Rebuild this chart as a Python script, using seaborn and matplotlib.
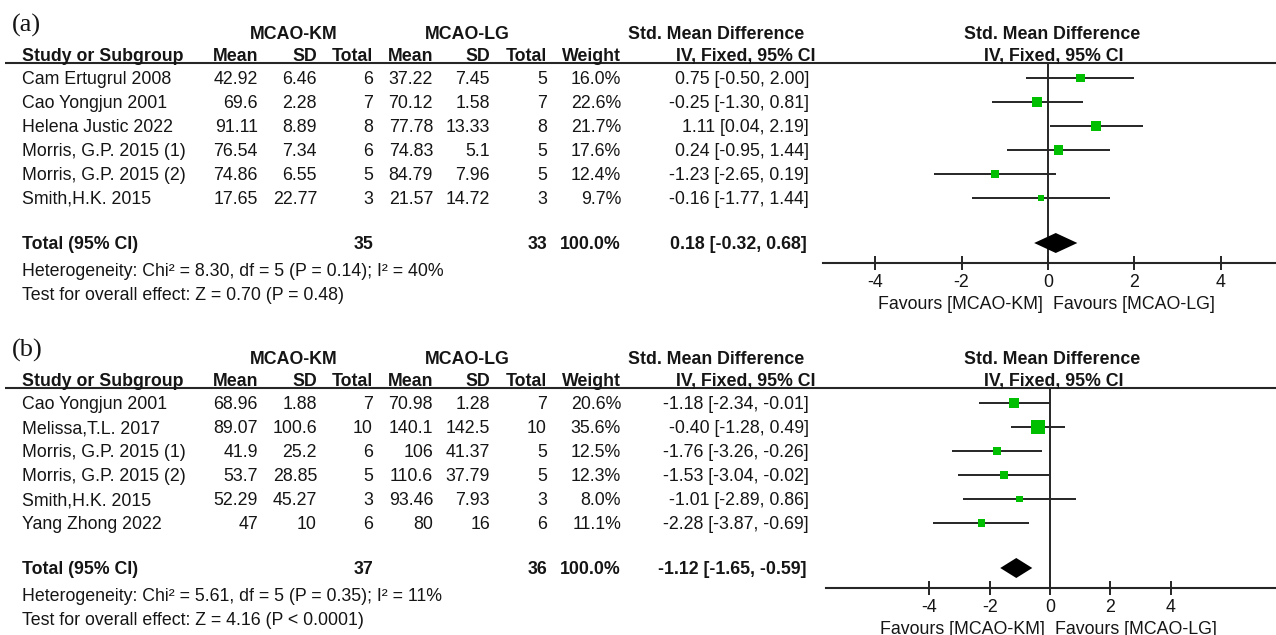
import matplotlib
matplotlib.use("Agg")
import numpy as np
import pandas as pd
import matplotlib.pyplot as plt
import seaborn as sns

# ---------------- (a) ----------------
a_study = ["Cam Ertugrul 2008", "Cao Yongjun 2001", "Helena Justic 2022",
           "Morris, G.P. 2015 (1)", "Morris, G.P. 2015 (2)", "Smith,H.K. 2015"]
a_km_mean = [42.92, 69.6, 91.11, 76.54, 74.86, 17.65]
a_km_sd = [6.46, 2.28, 8.89, 7.34, 6.55, 22.77]
a_km_n = [6, 7, 8, 6, 5, 3]
a_lg_mean = [37.22, 70.12, 77.78, 74.83, 84.79, 21.57]
a_lg_sd = [7.45, 1.58, 13.33, 5.1, 7.96, 14.72]
a_lg_n = [5, 7, 8, 5, 5, 3]
a_weight = [16.0, 22.6, 21.7, 17.6, 12.4, 9.7]
a_smd = [0.75, -0.25, 1.11, 0.24, -1.23, -0.16]
a_lo = [-0.50, -1.30, 0.04, -0.95, -2.65, -1.77]
a_hi = [2.00, 0.81, 2.19, 1.44, 0.19, 1.44]
a_pooled = [0.18, -0.32, 0.68]
a_total_weight = 100.0
a_het = "Heterogeneity: Chi² = 8.30, df = 5 (P = 0.14); I² = 40%"
a_test = "Test for overall effect: Z = 0.70 (P = 0.48)"

# ---------------- (b) ----------------
b_study = ["Cao Yongjun 2001", "Melissa,T.L. 2017", "Morris, G.P. 2015 (1)",
           "Morris, G.P. 2015 (2)", "Smith,H.K. 2015", "Yang Zhong 2022"]
b_km_mean = [68.96, 89.07, 41.9, 53.7, 52.29, 47]
b_km_sd = [1.88, 100.6, 25.2, 28.85, 45.27, 10]
b_km_n = [7, 10, 6, 5, 3, 6]
b_lg_mean = [70.98, 140.1, 106, 110.6, 93.46, 80]
b_lg_sd = [1.28, 142.5, 41.37, 37.79, 7.93, 16]
b_lg_n = [7, 10, 5, 5, 3, 6]
b_weight = [20.6, 35.6, 12.5, 12.3, 8.0, 11.1]
b_smd = [-1.18, -0.40, -1.76, -1.53, -1.01, -2.28]
b_lo = [-2.34, -1.28, -3.26, -3.04, -2.89, -3.87]
b_hi = [-0.01, 0.49, -0.26, -0.02, 0.86, -0.69]
b_pooled = [-1.12, -1.65, -0.59]
b_total_weight = 100.0
b_het = "Heterogeneity: Chi² = 5.61, df = 5 (P = 0.35); I² = 11%"
b_test = "Test for overall effect: Z = 4.16 (P < 0.0001)"

group_names = ["MCAO-KM", "MCAO-LG"]
col_headers = ["Mean", "SD", "Total", "Mean", "SD", "Total", "Weight"]
tick_values = [-4, -2, 0, 2, 4]

sns.set_theme(style="white")
plt.rcParams["font.family"] = ["Liberation Sans", "DejaVu Sans"]

W, H = 1276, 635
FS = 12.8
TXT = "#151515"
LINE = "#262626"
GREEN = "#00BE00"

fig = plt.figure(figsize=(W / 100, H / 100), dpi=100)
bg = fig.add_axes([0, 0, 1, 1])
bg.set_xlim(0, W)
bg.set_ylim(H, 0)
bg.axis("off")

# right edges of numeric columns
COL_X = [258, 317, 373, 433, 490, 547, 621]
CI_X = 809


def fmt(v):
    return f"{v:g}"


def draw_panel(label, off, study, km_mean, km_sd, km_n, lg_mean, lg_sd, lg_n,
               weight, total_weight, smd, lo, hi, pooled, het, test,
               axis_left, xlim):
    line_y = 63 + off
    row0 = 78 + off
    step = 24.0
    total_y = 243 + off
    axis_y = 263 + off

    def base(y):
        return y + 6

    bg.text(12, 25 + off, label, family="Liberation Serif", fontsize=19,
            ha="left", va="center", color=TXT)
    # group headers
    bg.text((214 + 373) / 2, base(33 + off), group_names[0], fontsize=FS,
            weight="bold", ha="center", va="baseline", color=TXT)
    bg.text((388 + 547) / 2, base(33 + off), group_names[1], fontsize=FS,
            weight="bold", ha="center", va="baseline", color=TXT)
    bg.text(716, base(33 + off), "Std. Mean Difference", fontsize=FS,
            weight="bold", ha="center", va="baseline", color=TXT)
    bg.text(1052, base(33 + off), "Std. Mean Difference", fontsize=FS,
            weight="bold", ha="center", va="baseline", color=TXT)
    # column headers
    hb = line_y - 2
    bg.text(22, hb, "Study or Subgroup", fontsize=FS, weight="bold",
            ha="left", va="baseline", color=TXT)
    for x, h in zip(COL_X, col_headers):
        bg.text(x, hb, h, fontsize=FS, weight="bold", ha="right",
                va="baseline", color=TXT)
    bg.text(746, hb, "IV, Fixed, 95% CI", fontsize=FS, weight="bold",
            ha="center", va="baseline", color=TXT)
    bg.text(1054, hb, "IV, Fixed, 95% CI", fontsize=FS, weight="bold",
            ha="center", va="baseline", color=TXT)
    bg.plot([5, W], [line_y, line_y], color=LINE, lw=1.5,
            solid_capstyle="butt")

    # study rows
    for i in range(len(study)):
        y = base(row0 + step * i)
        vals = [fmt(km_mean[i]), fmt(km_sd[i]), str(km_n[i]),
                fmt(lg_mean[i]), fmt(lg_sd[i]), str(lg_n[i]),
                f"{weight[i]:.1f}%"]
        bg.text(22, y, study[i], fontsize=FS, ha="left", va="baseline",
                color=TXT)
        for x, v in zip(COL_X, vals):
            bg.text(x, y, v, fontsize=FS, ha="right", va="baseline",
                    color=TXT)
        bg.text(CI_X, y, f"{smd[i]:.2f} [{lo[i]:.2f}, {hi[i]:.2f}]",
                fontsize=FS, ha="right", va="baseline", color=TXT)

    # pooled row
    y = base(total_y)
    bg.text(22, y, "Total (95% CI)", fontsize=FS, weight="bold", ha="left",
            va="baseline", color=TXT)
    bg.text(COL_X[2], y, str(sum(km_n)), fontsize=FS, weight="bold",
            ha="right", va="baseline", color=TXT)
    bg.text(COL_X[5], y, str(sum(lg_n)), fontsize=FS, weight="bold",
            ha="right", va="baseline", color=TXT)
    bg.text(COL_X[6], y, f"{total_weight:.1f}%", fontsize=FS, weight="bold",
            ha="right", va="baseline", color=TXT)
    bg.text(CI_X - 2, y,
            f"{pooled[0]:.2f} [{pooled[1]:.2f}, {pooled[2]:.2f}]",
            fontsize=FS, weight="bold", ha="right", va="baseline", color=TXT)
    bg.text(22, base(270 + off), het, fontsize=FS, ha="left", va="baseline",
            color=TXT)
    bg.text(22, base(294 + off), test, fontsize=FS, ha="left", va="baseline",
            color=TXT)

    # forest axes
    ax = fig.add_axes([axis_left / W, 1 - axis_y / H, (W - axis_left) / W,
                       (axis_y - line_y) / H])
    ax.patch.set_alpha(0)
    n = len(study)
    df = pd.DataFrame({"smd": smd, "lo": lo, "hi": hi, "weight": weight,
                       "row": np.arange(n, dtype=float)})
    ax.hlines(df["row"], df["lo"], df["hi"], color=LINE, lw=1.4, zorder=2)
    sns.scatterplot(data=df, x="smd", y="row", size="weight",
                    sizes=(0, 100), size_norm=(0, 40), marker="s",
                    color=GREEN, edgecolor="none", linewidth=0, legend=False,
                    ax=ax, zorder=3)
    t_row = (total_y - row0) / step
    hh = 10 / step
    est, plo, phi = pooled
    ax.fill([plo, est, phi, est], [t_row, t_row - hh, t_row, t_row + hh],
            color="black", lw=0, zorder=3)
    ax.axvline(0, color=LINE, lw=1.4, zorder=1)
    ax.set_xlim(*xlim)
    ax.set_ylim((axis_y - row0) / step, (line_y - row0) / step)
    ax.set_xticks(tick_values)
    ax.set_xticklabels([str(t) for t in tick_values])
    ax.set_yticks([])
    ax.set_xlabel("")
    ax.set_ylabel("")
    for s in ["left", "right", "top"]:
        ax.spines[s].set_visible(False)
    ax.spines["bottom"].set_color(LINE)
    ax.spines["bottom"].set_linewidth(1.5)
    ax.tick_params(axis="x", direction="inout", length=10, width=1.4,
                   color=LINE, labelsize=FS, labelcolor=TXT, pad=3,
                   bottom=True)
    ax.annotate("Favours [MCAO-KM]", xy=(0, 0),
                xycoords=("data", "axes fraction"), xytext=(-5, -41),
                textcoords="offset pixels", ha="right", va="center",
                fontsize=FS, color=TXT)
    ax.annotate("Favours [MCAO-LG]", xy=(0, 0),
                xycoords=("data", "axes fraction"), xytext=(5, -41),
                textcoords="offset pixels", ha="left", va="center",
                fontsize=FS, color=TXT)


draw_panel("(a)", 0, a_study, a_km_mean, a_km_sd, a_km_n, a_lg_mean,
           a_lg_sd, a_lg_n, a_weight, a_total_weight, a_smd, a_lo, a_hi,
           a_pooled, a_het, a_test, 823, (-5.21, 5.28))
draw_panel("(b)", 325, b_study, b_km_mean, b_km_sd, b_km_n, b_lg_mean,
           b_lg_sd, b_lg_n, b_weight, b_total_weight, b_smd, b_lo, b_hi,
           b_pooled, b_het, b_test, 826, (-7.42, 7.48))

fig.savefig("out.png", dpi=100, facecolor="white")
